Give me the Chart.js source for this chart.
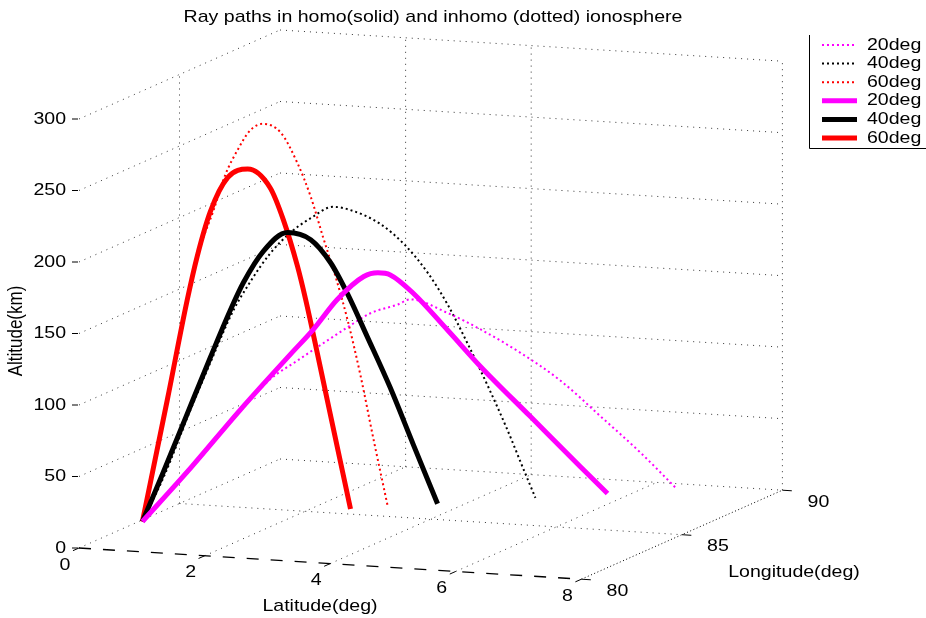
<!DOCTYPE html>
<html>
<head>
<meta charset="utf-8">
<title>Ray paths</title>
<script src="https://cdn.jsdelivr.net/npm/chart.js@4.4.0/dist/chart.umd.min.js"></script>
<style>
  html, body { margin: 0; padding: 0; background: #fff; }
  #wrap { width: 926px; height: 618px; position: relative; }
</style>
</head>
<body>
<div id="wrap"><canvas id="rayChart"></canvas></div>
<script>
// axis ticks
const latTicks = [0, 2, 4, 6, 8];
const lonTicks = [80, 85, 90];
const altTicks = [0, 50, 100, 150, 200, 250, 300];

// vertical grid lines that show on the back walls
const wallLat = [2, 4, 8];
const wallLon = [85];

const rayLabels = ["20deg", "40deg", "60deg"];

// ray paths: latitude (deg), longitude (deg), altitude (km)
// homogeneous (solid)
const homo20Lat = [0.05, 0.64, 1.23, 1.84, 2.11, 2.40, 2.72, 2.89, 3.04, 3.32, 3.73, 4.13, 4.73, 5.33, 5.66];
const homo20Lon = [83.00, 83.59, 84.18, 84.79, 85.06, 85.35, 85.67, 85.84, 85.99, 86.27, 86.68, 87.08, 87.68, 88.28, 88.61];
const homo20Alt = [0, 36, 74, 111, 127, 147, 162, 164, 162, 148, 121, 94, 57, 20, 0];

const homo40Lat = [0.05, 0.29, 0.58, 0.87, 1.11, 1.27, 1.51, 1.80, 2.08, 2.32, 2.52, 2.76, 3.04, 3.32, 3.61];
const homo40Lon = [83.00, 83.24, 83.53, 83.82, 84.06, 84.22, 84.46, 84.75, 85.03, 85.27, 85.47, 85.71, 85.99, 86.27, 86.56];
const homo40Alt = [0, 32, 72, 112, 144, 163, 184, 196, 190, 173, 151, 120, 83, 42, 0];

const homo60Lat = [0.05, 0.35, 0.59, 0.71, 0.87, 1.08, 1.32, 1.59, 1.75, 1.92, 2.02, 2.15, 2.28, 2.56];
const homo60Lon = [83.00, 83.30, 83.54, 83.66, 83.82, 84.03, 84.27, 84.54, 84.70, 84.87, 84.97, 85.10, 85.23, 85.51];
const homo60Alt = [0, 84, 153, 183, 214, 237, 242, 228, 205, 172, 148, 113, 77, 0];

// inhomogeneous (dotted)
const inhomo20Lat = [0.05, 0.64, 1.23, 1.59, 1.92, 2.23, 2.52, 2.80, 3.13, 3.28, 3.73, 4.13, 4.61, 5.09, 5.58, 6.06, 6.50];
const inhomo20Lon = [83.00, 83.59, 84.18, 84.54, 84.87, 85.18, 85.47, 85.75, 86.08, 86.23, 86.68, 87.08, 87.56, 88.04, 88.53, 89.01, 89.45];
const inhomo20Alt = [0, 35, 73, 94, 106, 117, 127, 136, 141, 144, 133, 120, 102, 81, 54, 27, 0];

const inhomo40Lat = [0.05, 0.32, 0.60, 0.89, 1.14, 1.35, 1.59, 1.84, 2.08, 2.35, 2.56, 2.92, 3.22, 3.49, 3.73, 3.97, 4.21, 4.45, 4.65, 4.79];
const inhomo40Lon = [83.00, 83.27, 83.55, 83.84, 84.09, 84.30, 84.54, 84.79, 85.03, 85.30, 85.51, 85.87, 86.17, 86.44, 86.68, 86.92, 87.16, 87.40, 87.60, 87.74];
const inhomo40Alt = [0, 32, 72, 111, 143, 163, 182, 196, 205, 212, 209, 198, 182, 162, 139, 111, 81, 49, 20, 0];

const inhomo60Lat = [0.05, 0.35, 0.59, 0.71, 0.91, 1.05, 1.20, 1.35, 1.50, 1.72, 1.92, 2.08, 2.23, 2.39, 2.53, 2.68, 2.84, 3.01];
const inhomo60Lon = [83.00, 83.30, 83.54, 83.66, 83.86, 84.00, 84.15, 84.30, 84.45, 84.67, 84.87, 85.03, 85.18, 85.34, 85.48, 85.63, 85.79, 85.96];
const inhomo60Alt = [0, 84, 153, 183, 215, 239, 256, 269, 273, 266, 244, 220, 191, 161, 131, 93, 47, 0];

// view: where (lat 0, lon 80, alt 0) lands on the page and how far one unit of each axis moves it
const VIEW = { ox: 79, oy: 548, latX: 62.8, latY: 3.9, lonX: 20.1, lonY: -8.9, altY: -1.43 };

function project(lat, lon, alt) {
  return {
    x: VIEW.ox + lat * VIEW.latX + (lon - 80) * VIEW.lonX,
    y: VIEW.oy + lat * VIEW.latY + (lon - 80) * VIEW.lonY + alt * VIEW.altY,
  };
}

function path(lat, lon, alt) {
  return lat.map((v, i) => project(v, lon[i], alt[i]));
}

const FONT = '17px "Liberation Sans", Arial, sans-serif';
const STRETCH = 1.15;

function drawText(ctx, text, x, y, align, rotated) {
  ctx.save();
  ctx.translate(x, y);
  if (rotated) {
    ctx.rotate(-Math.PI / 2);
    ctx.scale(1, STRETCH);
  } else {
    ctx.scale(STRETCH, 1);
  }
  ctx.font = FONT;
  ctx.fillStyle = "#000";
  ctx.textAlign = align;
  ctx.textBaseline = "middle";
  ctx.fillText(text, 0, 0);
  ctx.restore();
}

const box3d = {
  id: "box3d",
  beforeDatasetsDraw(chart) {
    const ctx = chart.ctx;
    const sx = chart.scales.x;
    const sy = chart.scales.y;
    const pt = (lat, lon, alt) => {
      const p = project(lat, lon, alt);
      return [sx.getPixelForValue(p.x), sy.getPixelForValue(p.y)];
    };
    const line = (a, b) => {
      ctx.beginPath();
      ctx.moveTo(a[0], a[1]);
      ctx.lineTo(b[0], b[1]);
      ctx.stroke();
    };
    const latMax = latTicks[latTicks.length - 1];
    const lonMin = lonTicks[0];
    const lonMax = lonTicks[lonTicks.length - 1];
    const altMax = altTicks[altTicks.length - 1];

    ctx.save();
    ctx.strokeStyle = "#333";
    ctx.lineWidth = 1;
    ctx.setLineDash([1, 5]);
    // back walls, constant altitude
    altTicks.forEach((z) => {
      line(pt(0, lonMin, z), pt(0, lonMax, z));
      line(pt(0, lonMax, z), pt(latMax, lonMax, z));
    });
    // back walls, vertical
    wallLat.forEach((l) => line(pt(l, lonMax, 0), pt(l, lonMax, altMax)));
    wallLon.forEach((l) => line(pt(0, l, 0), pt(0, l, altMax)));
    // floor
    latTicks.slice(1, -1).forEach((l) => line(pt(l, lonMin, 0), pt(l, lonMax, 0)));
    lonTicks.slice(1, -1).forEach((l) => line(pt(0, l, 0), pt(latMax, l, 0)));

    // latitude axis (dashed) and longitude axis (dotted)
    ctx.strokeStyle = "#000";
    ctx.lineWidth = 1.3;
    ctx.setLineDash([12, 12]);
    line(pt(0, lonMin, 0), pt(latMax, lonMin, 0));
    ctx.lineWidth = 1;
    ctx.setLineDash([1, 2.5]);
    line(pt(latMax, lonMin, 0), pt(latMax, lonMax, 0));
    ctx.restore();
  },
  afterDatasetsDraw(chart) {
    const ctx = chart.ctx;
    const sx = chart.scales.x;
    const sy = chart.scales.y;
    const pt = (lat, lon, alt) => {
      const p = project(lat, lon, alt);
      return [sx.getPixelForValue(p.x), sy.getPixelForValue(p.y)];
    };
    const latMax = latTicks[latTicks.length - 1];
    const lonMin = lonTicks[0];

    ctx.save();
    ctx.strokeStyle = "#000";
    ctx.lineWidth = 1;
    ctx.setLineDash([]);

    altTicks.forEach((z) => {
      const p = pt(0, lonMin, z);
      ctx.beginPath();
      ctx.moveTo(p[0] - 7, p[1]);
      ctx.lineTo(p[0] - 1, p[1]);
      ctx.stroke();
      drawText(ctx, String(z), p[0] - 13, p[1], "right");
    });
    latTicks.forEach((l) => {
      const p = pt(l, lonMin, 0);
      const q = pt(l, lonMin - 0.3, 0);
      ctx.beginPath();
      ctx.moveTo(p[0], p[1]);
      ctx.lineTo(q[0], q[1]);
      ctx.stroke();
      drawText(ctx, String(l), p[0] - 14, p[1] + 17, "center");
    });
    lonTicks.forEach((l) => {
      const p = pt(latMax, l, 0);
      const q = pt(latMax + 0.15, l, 0);
      ctx.beginPath();
      ctx.moveTo(p[0], p[1]);
      ctx.lineTo(q[0], q[1]);
      ctx.stroke();
      drawText(ctx, String(l), p[0] + 36, p[1] + 12, "center");
    });

    drawText(ctx, "Latitude(deg)", 320, 606, "center");
    drawText(ctx, "Longitude(deg)", 794, 572, "center");
    drawText(ctx, "Altitude(km)", 17, 331, "center", true);
    drawText(ctx, "Ray paths in homo(solid) and inhomo (dotted) ionosphere", 433, 17, "center");

    // legend
    ctx.beginPath();
    ctx.moveTo(809.5, 35);
    ctx.lineTo(809.5, 148.5);
    ctx.lineTo(926, 148.5);
    ctx.stroke();
    chart.data.datasets.forEach((ds, i) => {
      const y = 45 + i * 18.6;
      ctx.strokeStyle = ds.borderColor;
      ctx.lineWidth = ds.borderWidth;
      ctx.setLineDash(ds.borderDash || []);
      ctx.beginPath();
      ctx.moveTo(822, y);
      ctx.lineTo(857, y);
      ctx.stroke();
      drawText(ctx, ds.label, 867, y, "left");
    });
    ctx.restore();
  },
};

const colors = ["#ff00ff", "#000000", "#ff0000"];
const inhomoPaths = [
  path(inhomo20Lat, inhomo20Lon, inhomo20Alt),
  path(inhomo40Lat, inhomo40Lon, inhomo40Alt),
  path(inhomo60Lat, inhomo60Lon, inhomo60Alt),
];
const homoPaths = [
  path(homo20Lat, homo20Lon, homo20Alt),
  path(homo40Lat, homo40Lon, homo40Alt),
  path(homo60Lat, homo60Lon, homo60Alt),
];

const datasets = [];
inhomoPaths.forEach((d, i) => {
  datasets.push({
    label: rayLabels[i],
    data: d,
    borderColor: colors[i],
    borderWidth: 2,
    borderDash: [2, 3],
    cubicInterpolationMode: "monotone",
    order: 2,
  });
});
homoPaths.forEach((d, i) => {
  datasets.push({
    label: rayLabels[i],
    data: d,
    borderColor: colors[i],
    borderWidth: 5,
    cubicInterpolationMode: "monotone",
    order: 1,
  });
});

const ctx = document.getElementById("rayChart").getContext("2d");
new Chart(ctx, {
  type: "scatter",
  data: { datasets: datasets },
  options: {
    responsive: true,
    maintainAspectRatio: false,
    animation: false,
    showLine: true,
    layout: { padding: 0 },
    elements: { point: { radius: 0 }, line: { fill: false } },
    datasets: { scatter: { clip: false } },
    plugins: { legend: { display: false }, tooltip: { enabled: false }, title: { display: false } },
    scales: {
      x: { type: "linear", display: false, min: 0, max: 926 },
      y: { type: "linear", display: false, min: 0, max: 618, reverse: true },
    },
  },
  plugins: [box3d],
});
</script>
</body>
</html>
